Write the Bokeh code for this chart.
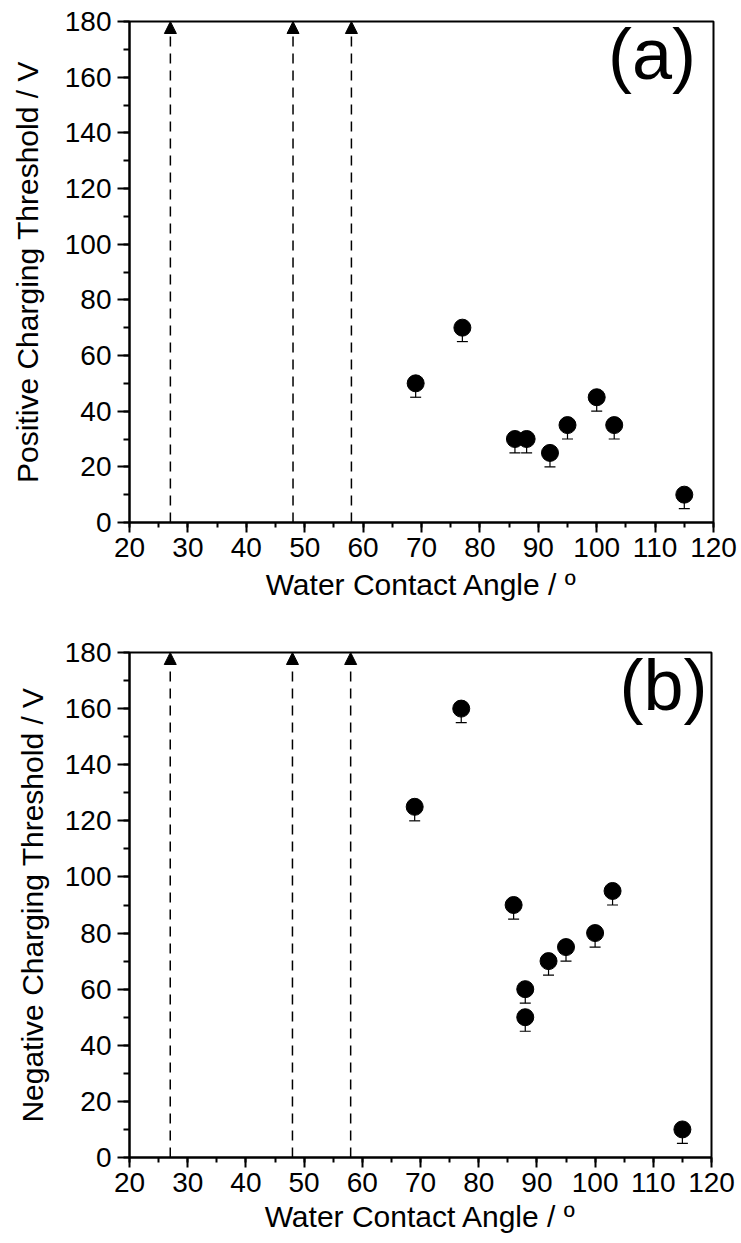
from bokeh.plotting import figure
from bokeh.layouts import column
from bokeh.models import (ColumnDataSource, Range1d, SingleIntervalTicker, Whisker,
                          TeeHead, Arrow, NormalHead, Label)
from bokeh.embed import file_html
from bokeh.resources import INLINE

# ---- data ----
angle_a = [69, 77, 86, 88, 92, 95, 100, 103, 115]
pos_threshold = [50, 70, 30, 30, 25, 35, 45, 35, 10]
pos_err = [5, 5, 5, 5, 5, 5, 5, 5, 5]

angle_b = [69, 77, 86, 88, 88, 92, 95, 100, 103, 115]
neg_threshold = [125, 160, 90, 60, 50, 70, 75, 80, 95, 10]
neg_err = [5, 5, 5, 5, 5, 5, 5, 5, 5, 5]

wetting_angles = [27, 48, 58]   # samples whose threshold lies above the range
x_lim = (20, 120)
y_lim = (0, 180)

FONT = "Liberation Sans"


def make_panel(xs, ys, errs, tag, tag_x, tag_y, ytitle, ytitle_standoff,
               xtitle_standoff, left, right, top, bottom, fw, fh):
    p = figure(output_backend="svg", toolbar_location=None,
               x_range=Range1d(*x_lim), y_range=Range1d(*y_lim),
               frame_width=fw, frame_height=fh,
               min_border_left=left, min_border_right=right,
               min_border_top=top, min_border_bottom=bottom)
    p.background_fill_color = "white"
    p.border_fill_color = "white"
    p.outline_line_color = "black"
    p.outline_line_width = 2
    p.xgrid.visible = False
    p.ygrid.visible = False

    p.xaxis.ticker = SingleIntervalTicker(interval=10, num_minor_ticks=2)
    p.yaxis.ticker = SingleIntervalTicker(interval=20, num_minor_ticks=2)
    for ax in (p.xaxis[0], p.yaxis[0]):
        ax.axis_line_width = 2
        ax.axis_line_color = "black"
        ax.major_tick_line_width = 2
        ax.minor_tick_line_width = 2
        ax.major_tick_in = 0
        ax.minor_tick_in = 0
        ax.major_label_text_font = FONT
        ax.major_label_text_font_size = "28px"
        ax.major_label_text_color = "black"
        ax.axis_label_text_font = FONT
        ax.axis_label_text_font_size = "30px"
        ax.axis_label_text_font_style = "normal"
        ax.axis_label_text_color = "black"
    p.yaxis.major_tick_out = 12
    p.yaxis.minor_tick_out = 6
    p.xaxis.major_tick_out = 10
    p.xaxis.minor_tick_out = 5
    p.xaxis.major_label_standoff = 5
    p.yaxis.major_label_standoff = 6
    p.xaxis.axis_label = "Water Contact Angle / º"
    p.yaxis.axis_label = ytitle
    p.xaxis.axis_label_standoff = xtitle_standoff
    p.yaxis.axis_label_standoff = ytitle_standoff

    # dashed arrows for samples whose threshold exceeds the range
    asrc = ColumnDataSource(dict(x0=wetting_angles, y0=[y_lim[0]] * len(wetting_angles),
                                 x1=wetting_angles, y1=[y_lim[1]] * len(wetting_angles)))
    p.add_layout(Arrow(end=NormalHead(size=12, fill_color="black", line_color="black",
                                      line_width=1),
                       x_start="x0", y_start="y0", x_end="x1", y_end="y1",
                       source=asrc, line_color="black", line_width=1.5,
                       line_dash="10 7"))

    src = ColumnDataSource(dict(x=xs, y=ys, lower=[v - e for v, e in zip(ys, errs)]))
    p.add_layout(Whisker(base="x", upper="y", lower="lower", source=src,
                         upper_head=None,
                         lower_head=TeeHead(size=11, line_width=1.2, line_color="black"),
                         line_color="black", line_width=1.2))
    p.scatter("x", "y", source=src, size=17, marker="circle",
              fill_color="black", line_color="black")

    p.add_layout(Label(x=tag_x, y=tag_y, text=tag, text_align="right",
                       text_baseline="middle", text_font=FONT,
                       text_font_size="72px", text_color="black"))
    return p


pa = make_panel(angle_a, pos_threshold, pos_err, "(a)", 117.0, 168.5,
                "Positive Charging Threshold / V", 18, 8,
                left=129, right=26, top=21, bottom=108, fw=584, fh=501)
pb = make_panel(angle_b, neg_threshold, neg_err, "(b)", 119.3, 168.5,
                "Negative Charging Threshold / V", 13, 5,
                left=123, right=34, top=22, bottom=80, fw=582, fh=505)

layout = column(pa, pb, spacing=0)
open("out.html", "w").write(file_html(layout, INLINE))
